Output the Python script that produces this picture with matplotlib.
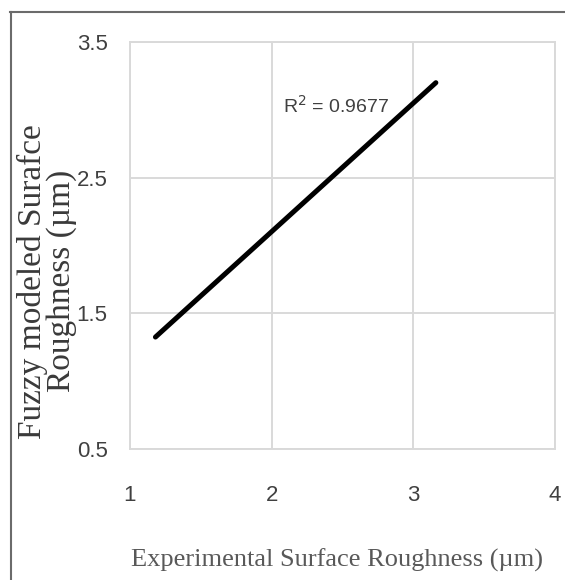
import matplotlib
matplotlib.use("Agg")
import matplotlib.pyplot as plt
from matplotlib.lines import Line2D

# trendline end points
experimental = [1.18, 3.16]
fuzzy_modeled = [1.325, 3.20]
r_squared = 0.9677

x_ticks = [1, 2, 3, 4]
y_ticks = [0.5, 1.5, 2.5, 3.5]

NARROW = ['Liberation Sans', 'DejaVu Sans']
SERIF = ['Liberation Serif', 'DejaVu Serif']

fig = plt.figure(figsize=(5.65, 5.80), dpi=100)
ax = fig.add_axes([0.230, 0.2259, 0.752, 0.7017])

ax.plot(experimental, fuzzy_modeled, color='black', linewidth=3.6, solid_capstyle='round')

ax.set_xlim(1, 4)
ax.set_ylim(0.5, 3.5)
ax.set_xticks(x_ticks)
ax.set_yticks(y_ticks)
ax.set_xticklabels([str(t) for t in x_ticks], family=NARROW, fontsize=16, color='#404040')
ax.set_yticklabels([str(t) for t in y_ticks], family=NARROW, fontsize=16, color='#404040')
ax.tick_params(length=0)
ax.tick_params(axis='y', pad=16)
ax.tick_params(axis='x', pad=26)
ax.grid(True, color='#d9d9d9', linewidth=1.4)
for s in ax.spines.values():
    s.set_color('#d9d9d9')
    s.set_linewidth(1.4)
ax.set_axisbelow(True)

ax.text(2.08, 3.03, 'R$^2$ = %.4f' % r_squared, family=NARROW, fontsize=14,
        color='#404040', va='center', ha='left')

fig.text(0.596, 0.034, 'Experimental Surface Roughness (\u00b5m)', family=SERIF,
         fontsize=19, color='#595959', ha='center', va='center')
fig.text(0.083, 0.515, 'Fuzzy modeled Surafce\nRoughness (\u00b5m)', family=SERIF,
         fontsize=24, color='#3a3a3a', ha='center', va='center', rotation=90,
         linespacing=0.95)

# outer frame (top and left edges visible)
fig.add_artist(Line2D([10 / 565, 1], [1 - 12 / 580, 1 - 12 / 580], color='#6b6b6b', linewidth=1.5))
fig.add_artist(Line2D([11 / 565, 11 / 565], [0, 1 - 12 / 580], color='#6b6b6b', linewidth=1.5))

fig.savefig('out.png', dpi=100)
